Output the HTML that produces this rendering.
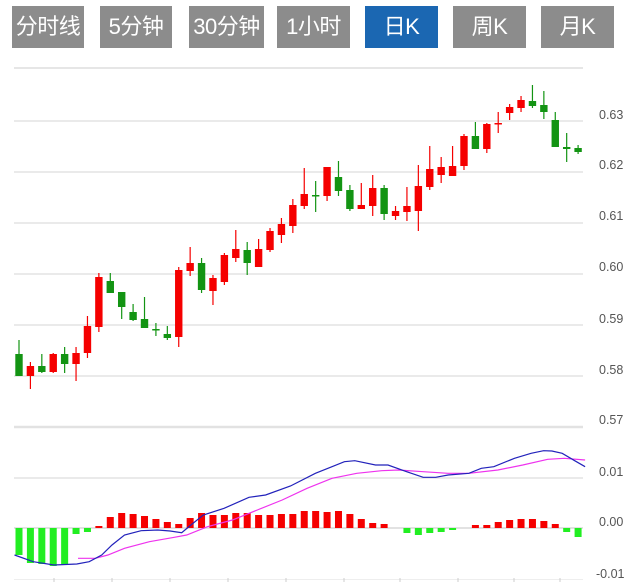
<!DOCTYPE html>
<html><head><meta charset="utf-8"><style>
body{margin:0;background:#fff;width:642px;height:582px;overflow:hidden;font-family:"Liberation Sans","Noto Sans CJK SC",sans-serif}
.b{position:absolute;top:6px;height:42px;line-height:42px;background:#8c8c8c;color:#fff;font-size:22px;text-align:center;letter-spacing:-0.5px}
.a{background:#1b67b2}
</style></head><body>
<div class="b" style="left:12px;width:72px">分时线</div>
<div class="b" style="left:100px;width:72px">5分钟</div>
<div class="b" style="left:189px;width:75px">30分钟</div>
<div class="b" style="left:277px;width:73px">1小时</div>
<div class="b a" style="left:365px;width:73px">日K</div>
<div class="b" style="left:453px;width:73px">周K</div>
<div class="b" style="left:541px;width:73px">月K</div>
<svg id="s" width="642" height="582" style="position:absolute;left:0;top:0"></svg>
<script>
var s='';
function L(y,w,c){s+='<line x1="14" x2="583" y1="'+y+'" y2="'+y+'" stroke="'+c+'" stroke-width="'+w+'"/>';}
L(68,2,'#e6e6e6');[121,172,223,274,325,376].forEach(function(y){L(y,1.3,'#ddd')});L(427,2.5,'#e2e2e2');L(478,1.3,'#ddd');L(528,2,'#e2e2e2');
L(579.5,1,'#eee');
[54,112,170,228,286,344,400,458,514,560].forEach(function(x){s+='<line x1="'+x+'" x2="'+x+'" y1="578" y2="582" stroke="#ccc"/>'});
var lab=[['0.63',119],['0.62',169],['0.61',220],['0.60',271],['0.59',323],['0.58',374],['0.57',424],['0.01',476],['0.00',526],['-0.01',578]];
lab.forEach(function(l){s+='<text x="'+(l[0][0]=='-'?596:599)+'" y="'+l[1]+'" font-size="12.5" fill="#555" font-family="Liberation Sans">'+l[0]+'</text>'});
var C=[[354,376,340,376,0],[366,376,362,389,1],[366,372,354,373,0],[354,372,353,373,1],[354,364,347,373,0],[353,364,347,381,1],[326,353,316,358,1],[277,327,273,332,1],[281,293,273,293,0],[292,307,292,319,0],[312,320,304,321,0],[319,328,297,328,0],[329,330,323,336,0],[334,338,326,340,0],[270,337,267,347,1],[263,271,247,276,1],[263,290,258,293,0],[278,291,275,305,1],[255,282,253,285,1],[249,258,230,262,1],[250,263,242,275,0],[249,267,239,267,1],[231,250,228,252,1],[224,235,218,243,1],[205,226,199,233,1],[194,206,168,209,1],[195,196,181,212,0],[167,196,167,201,1],[177,191,161,196,0],[190,209,185,211,0],[205,209,183,209,1],[188,206,175,216,1],[188,214,185,220,0],[211,216,206,220,1],[206,212,187,221,1],[186,211,165,231,1],[169,187,146,190,1],[167,175,157,183,1],[166,176,146,176,1],[136,166,134,170,1],[136,149,122,149,0],[124,149,123,153,1],[123,124,112,133,1],[107,113,104,120,1],[100,108,96,112,1],[101,106,85,108,0],[105,112,91,119,0],[120,147,112,147,0],[147,149,133,162,0],[148,152,145,154,0]];
C.forEach(function(c,i){var x=19+i*11.41,col=c[4]?'#f50000':'#139413';
s+='<line x1="'+x+'" x2="'+x+'" y1="'+c[2]+'" y2="'+c[3]+'" stroke="'+col+'" stroke-width="1.2"/>';
var h=Math.max(c[1]-c[0],1.5);s+='<rect x="'+(x-3.7)+'" y="'+c[0]+'" width="7.4" height="'+h+'" fill="'+col+'"/>';});
var H=[-555,-563,-564,-566,-565,-534,-532,526,517,513,514,516,519,522,524,518,513,515,515,513,513,515,515,514,514,511,511,512,511,514,519,523,524,0,-533,-535,-533,-532,-530,0,525,525,522,520,519,519,521,524,-532,-537];
H.forEach(function(v,i){if(!v)return;var x=19+i*11.41-3.5;
if(v>0)s+='<rect x="'+x+'" y="'+v+'" width="7" height="'+(528-v)+'" fill="#f50000"/>';
else s+='<rect x="'+x+'" y="528" width="7" height="'+(-v-528)+'" fill="#22ee22"/>';});
function P(a,c){var p=[];for(var i=0;i<a.length;i+=2)p.push((a[i]/2.41).toFixed(1)+','+(a[i+1]/3+420).toFixed(1));s+='<polyline points="'+p.join(' ')+'" fill="none" stroke="'+c+'" stroke-width="1.2"/>';}
P([188,415,230,415,260,405,300,385,360,365,420,352,450,345,500,320,560,300,620,270,680,240,740,205,800,175,860,160,920,152,960,150,1020,155,1080,160,1130,160,1200,150,1260,135,1320,118,1360,115,1410,120],'#ee33ee');
P([35,405,80,425,130,435,185,432,215,425,245,405,270,375,300,345,340,332,380,330,410,333,438,338,460,315,490,285,540,265,600,232,640,225,700,198,760,160,800,140,830,125,855,122,905,135,935,135,980,155,1020,172,1050,172,1080,165,1130,160,1160,145,1190,140,1240,115,1280,100,1310,92,1330,93,1355,100,1385,122,1410,140],'#2222bb');
document.getElementById('s').innerHTML=s;
</script>
</body></html>
